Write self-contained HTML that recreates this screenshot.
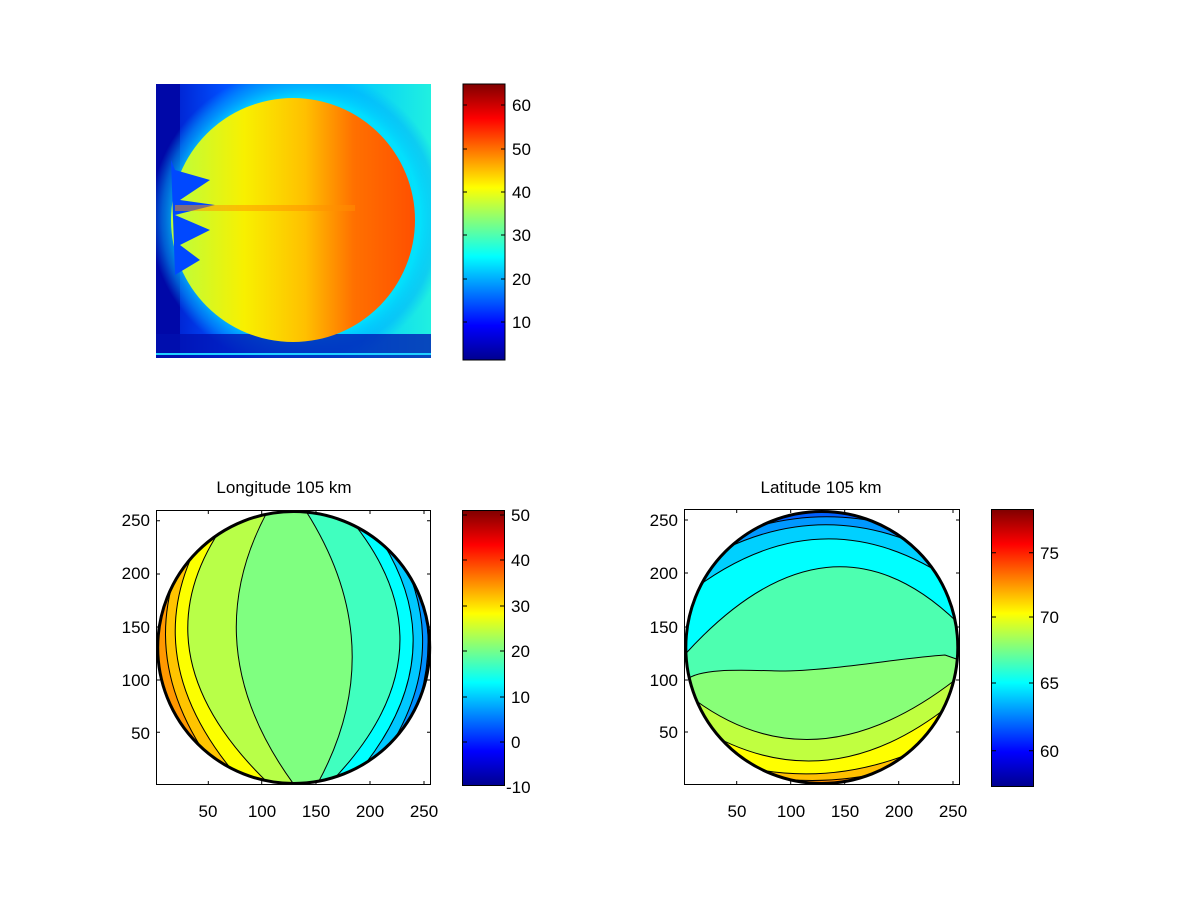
<!DOCTYPE html>
<html><head><meta charset="utf-8"><style>
html,body{margin:0;padding:0;background:#fff}
svg text{font-family:"Liberation Sans",Arial,sans-serif;font-size:17px;fill:#000}
</style></head><body>
<svg width="1200" height="900" viewBox="0 0 1200 900" xmlns="http://www.w3.org/2000/svg">
<defs>
<linearGradient id="jet" x1="0" y1="1" x2="0" y2="0">
<stop offset="0" stop-color="#00008f"/><stop offset="0.125" stop-color="#0000ff"/>
<stop offset="0.375" stop-color="#00ffff"/><stop offset="0.625" stop-color="#ffff00"/>
<stop offset="0.875" stop-color="#ff0000"/><stop offset="1" stop-color="#800000"/>
</linearGradient>
<linearGradient id="bg" x1="0" y1="0" x2="1" y2="0">
<stop offset="0" stop-color="#0010c0"/><stop offset="0.25" stop-color="#0050ff"/>
<stop offset="0.7" stop-color="#00c8ff"/><stop offset="1" stop-color="#20f0e0"/>
</linearGradient>
<radialGradient id="ring" cx="0.5" cy="0.5" r="0.5">
<stop offset="0.8" stop-color="#00e0ff" stop-opacity="0.9"/><stop offset="0.92" stop-color="#00b0ff" stop-opacity="0.5"/><stop offset="1" stop-color="#00b0ff" stop-opacity="0"/>
</radialGradient>
<linearGradient id="blob" x1="0" y1="0" x2="1" y2="0">
<stop offset="0" stop-color="#b8ff40"/><stop offset="0.3" stop-color="#f8f000"/>
<stop offset="0.55" stop-color="#ffc000"/><stop offset="0.75" stop-color="#ff7000"/><stop offset="1" stop-color="#ff5000"/>
</linearGradient>
<clipPath id="c1"><circle cx="293.7" cy="647.5" r="136"/></clipPath>
<clipPath id="c2"><circle cx="821.8" cy="647.5" r="136"/></clipPath>
<clipPath id="img"><rect x="156" y="84" width="275" height="274"/></clipPath>
</defs>

<!-- top image -->
<g clip-path="url(#img)">
<rect x="156" y="84" width="275" height="274" fill="url(#bg)"/>
<rect x="156" y="84" width="24" height="274" fill="#0008a8"/>
<circle cx="300" cy="218" r="150" fill="url(#ring)"/>
<rect x="156" y="334" width="275" height="24" fill="#0010b0" opacity="0.75"/>
<rect x="156" y="353" width="275" height="2" fill="#20d0ff"/>
<circle cx="293" cy="220" r="122" fill="url(#blob)"/>
<path d="M175,170 L210,180 L180,200 L215,205 L175,215 L210,230 L180,245 L200,260 L175,275 L171,160 Z" fill="#0048ff"/>
<rect x="175" y="205" width="180" height="6" fill="#ff9000" opacity="0.5"/>
</g>
<rect x="463" y="84" width="42" height="276" fill="url(#jet)" stroke="#000" stroke-width="1"/>
<g stroke="#000" stroke-width="1">
<path d="M463,105h4M501,105h4M463,149h4M501,149h4M463,192h4M501,192h4M463,235h4M501,235h4M463,279h4M501,279h4M463,322h4M501,322h4"/>
</g>
<text x="512" y="111">60</text><text x="512" y="155">50</text><text x="512" y="198">40</text>
<text x="512" y="241">30</text><text x="512" y="285">20</text><text x="512" y="328">10</text>

<!-- Longitude -->
<text x="284" y="493" text-anchor="middle">Longitude 105 km</text>
<rect x="156.5" y="510.5" width="274" height="274" fill="#fff" stroke="#000"/>
<g clip-path="url(#c1)">
<rect x="150" y="505" width="290" height="290" fill="#ff6a00"/>
<path d="M205,500 Q99,647 225,795 L440,795 L440,500 Z" fill="#ff9800"/>
<path d="M215,500 Q106,647 237,795 L440,795 L440,500 Z" fill="#ffc400"/>
<path d="M226,500 Q112,647 254,795 L440,795 L440,500 Z" fill="#fcff00"/>
<path d="M243,500 Q116,647 281,795 L440,795 L440,500 Z" fill="#b8ff48"/>
<path d="M271,505 Q190,647 298,790 L440,790 L440,505 Z" fill="#7fff80"/>
<path d="M302,505 Q396,647 314,790 L440,790 L440,505 Z" fill="#40ffbf"/>
<path d="M338,505 Q469,647 323,790 L440,790 L440,505 Z" fill="#00ffff"/>
<path d="M355,505 Q477,647 343,790 L440,790 L440,505 Z" fill="#00c8ff"/>
<path d="M368,505 Q482,647 358,790 L440,790 L440,505 Z" fill="#0090ff"/>
<path d="M380,505 Q480,647 372,790 L440,790 L440,505 Z" fill="#0060ff"/>
<g fill="none" stroke="#000" stroke-width="1">
<path d="M205,500 Q99,647 225,795"/><path d="M215,500 Q106,647 237,795"/>
<path d="M226,500 Q112,647 254,795"/>
<path d="M243,500 Q116,647 281,795"/><path d="M271,505 Q190,647 298,790"/>
<path d="M302,505 Q396,647 314,790"/><path d="M338,505 Q469,647 323,790"/>
<path d="M355,505 Q477,647 343,790"/><path d="M368,505 Q482,647 358,790"/>
<path d="M380,505 Q480,647 372,790"/>
</g>
</g>
<circle cx="293.7" cy="647.5" r="136" fill="none" stroke="#000" stroke-width="3"/>
<g stroke="#000">
<path d="M208.3,784v-3M261.7,784v-3M316,784v-3M370,784v-3M424,784v-3M208.3,511v3M261.7,511v3M316,511v3M370,511v3M424,511v3"/>
<path d="M157,520.7h3M157,574h3M157,627h3M157,680h3M157,732.3h3M430,520.7h-3M430,574h-3M430,627h-3M430,680h-3M430,732.3h-3"/>
</g>
<g text-anchor="end"><text x="150" y="526">250</text><text x="150" y="579">200</text><text x="150" y="633">150</text><text x="150" y="686">100</text><text x="150" y="739">50</text></g>
<g text-anchor="middle"><text x="208" y="817">50</text><text x="262" y="817">100</text><text x="316" y="817">150</text><text x="370" y="817">200</text><text x="424" y="817">250</text></g>
<rect x="462.5" y="510.5" width="42" height="275" fill="url(#jet)" stroke="#000"/>
<g stroke="#000"><path d="M463,515h4M500,515h4M463,560h4M500,560h4M463,606h4M500,606h4M463,651h4M500,651h4M463,697h4M500,697h4M463,742h4M500,742h4"/></g>
<text x="511" y="521">50</text><text x="511" y="566">40</text><text x="511" y="612">30</text><text x="511" y="657">20</text><text x="511" y="703">10</text><text x="511" y="748">0</text><text x="506" y="793">-10</text>

<!-- Latitude -->
<text x="821" y="493" text-anchor="middle">Latitude 105 km</text>
<rect x="684.5" y="509.5" width="275" height="275" fill="#fff" stroke="#000"/>
<g clip-path="url(#c2)">
<rect x="680" y="505" width="290" height="290" fill="#0020f0"/>
<path d="M680,548 Q822,477 965,545 L965,800 L680,800 Z" fill="#0060ff"/>
<path d="M680,560 Q822,476 965,555 L965,800 L680,800 Z" fill="#0098ff"/>
<path d="M680,575 Q822,477 965,570 L965,800 L680,800 Z" fill="#00d0ff"/>
<path d="M680,600 Q822,483 965,590 L965,800 L680,800 Z" fill="#00ffff"/>
<path d="M680,660 Q830,490 965,630 L965,800 L680,800 Z" fill="#4dffb0"/>
<path d="M686,680 C700,668 740,670 780,671 C830,671 900,658 945,655 L965,662 L965,800 L680,800 Z" fill="#88ff78"/>
<path d="M695,700 Q815,788 955,680 L965,800 L680,800 Z" fill="#c0ff40"/>
<path d="M700,728 Q825,804 950,705 L965,800 L680,800 Z" fill="#ffff00"/>
<path d="M720,760 Q825,794 930,745 L965,800 L680,800 Z" fill="#ffc000"/>
<path d="M740,772 Q825,792 910,765 L965,800 L680,800 Z" fill="#ff9000"/>
<path d="M750,780 Q825,794 900,776 L965,800 L680,800 Z" fill="#ff6000"/>
<g fill="none" stroke="#000">
<path d="M680,548 Q822,477 965,545"/><path d="M680,560 Q822,476 965,555"/>
<path d="M680,575 Q822,477 965,570"/><path d="M680,600 Q822,483 965,590"/>
<path d="M680,660 Q830,490 965,630"/>
<path d="M686,680 C700,668 740,670 780,671 C830,671 900,658 945,655 L965,662"/>
<path d="M695,700 Q815,788 955,680"/><path d="M700,728 Q825,804 950,705"/>
<path d="M720,760 Q825,794 930,745"/><path d="M740,772 Q825,792 910,765"/>
<path d="M750,780 Q825,794 900,776"/>
</g>
</g>
<circle cx="821.8" cy="647.5" r="136" fill="none" stroke="#000" stroke-width="3"/>
<g stroke="#000">
<path d="M736.7,784v-3M790.7,784v-3M844.7,784v-3M898.7,784v-3M953,784v-3M736.7,510v3M790.7,510v3M844.7,510v3M898.7,510v3M953,510v3"/>
<path d="M685,520h3M685,573h3M685,627h3M685,680h3M685,732h3M959,520h-3M959,573h-3M959,627h-3M959,680h-3M959,732h-3"/>
</g>
<g text-anchor="end"><text x="678" y="526">250</text><text x="678" y="579">200</text><text x="678" y="633">150</text><text x="678" y="686">100</text><text x="678" y="738">50</text></g>
<g text-anchor="middle"><text x="737" y="817">50</text><text x="791" y="817">100</text><text x="845" y="817">150</text><text x="899" y="817">200</text><text x="953" y="817">250</text></g>
<rect x="991.5" y="509.5" width="42" height="277" fill="url(#jet)" stroke="#000"/>
<g stroke="#000"><path d="M992,552.7h4M1029,552.7h4M992,617h4M1029,617h4M992,683h4M1029,683h4M992,750.7h4M1029,750.7h4"/></g>
<text x="1040" y="559">75</text><text x="1040" y="623">70</text><text x="1040" y="689">65</text><text x="1040" y="757">60</text>
</svg>
</body></html>
